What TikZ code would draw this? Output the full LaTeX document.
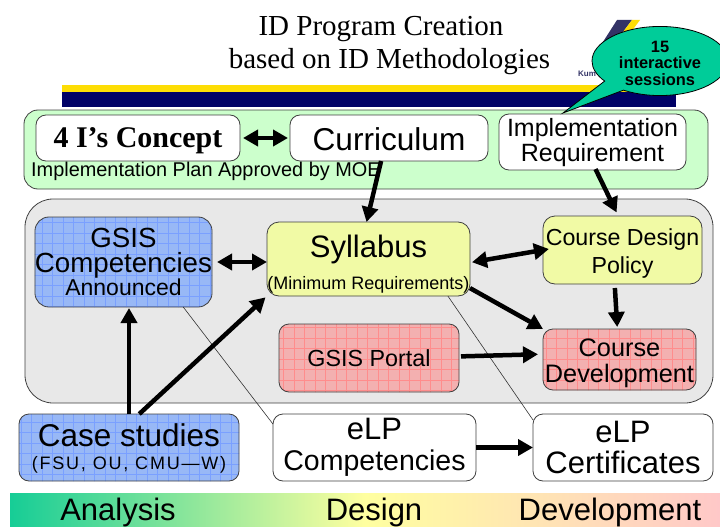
\documentclass[tikz,border=0pt]{standalone}
\usepackage{fontspec}
\setmainfont{Liberation Sans}
\newfontfamily\titlefont{Liberation Serif}
\usetikzlibrary{positioning, arrows.meta, shapes.callouts, patterns}
\definecolor{plangreen}{RGB}{204,255,204}
\definecolor{panelgray}{RGB}{232,232,232}
\definecolor{sylyellow}{RGB}{241,250,165}
\definecolor{blueback}{RGB}{152,184,246}
\definecolor{blueline}{RGB}{122,160,255}
\definecolor{pinkback}{RGB}{243,176,176}
\definecolor{pinkline}{RGB}{255,140,140}
\definecolor{sessgreen}{RGB}{0,204,153}
\definecolor{logoblue}{RGB}{51,51,102}
\newcommand{\fsz}[2]{\fontsize{#1}{#2}\selectfont}
\newcommand{\topgap}[1]{\rule{0pt}{#1pt}}
\pgfdeclarepatternformonly{thingrid}{\pgfqpoint{-1pt}{-1pt}}{\pgfqpoint{11.5pt}{11.5pt}}{\pgfqpoint{10.5pt}{10.5pt}}{
	\pgfsetlinewidth{0.5pt}
	\pgfpathmoveto{\pgfqpoint{0pt}{0pt}}
	\pgfpathlineto{\pgfqpoint{10.5pt}{0pt}}
	\pgfpathmoveto{\pgfqpoint{0pt}{0pt}}
	\pgfpathlineto{\pgfqpoint{0pt}{10.5pt}}
	\pgfusepath{stroke}
}
\tikzset{
	panel/.style={draw=black!75, line width=0.8, inner sep=0, outer sep=0, text centered, align=center, rounded corners=10},
	whitebox/.style={panel, fill=white},
	yellowbox/.style={panel, fill=sylyellow},
	gridbox/.style 2 args={panel, preaction={fill=#1}, pattern=thingrid, pattern color=#2},
	fat/.style={line width=4.5, {Triangle[width=16,length=15]}-{Triangle[width=16,length=15]}},
	fatone/.style={line width=4.5, -{Triangle[width=16,length=15]}},
	thinline/.style={line width=0.6, black!80}
}

\begin{document}
\begin{tikzpicture}[x=1pt, y=-1pt]
		\useasboundingbox (0,0) rectangle (720,527);

		% title %
		\node[font=\titlefont\fsz{29}{33}, text centered, align=center] (title) at (389.5,45.5) {ID Program Creation\hspace*{17pt}\\based on ID Methodologies};

		% logo and banner %
		\fill[logoblue] (617,20) -- (632,20) -- (620,36) -- (601,45) -- cycle;
		\fill[yellow!80!orange] (632,20) -- (640,20) -- (628,36) -- (620,36) -- cycle;
		\node[text=logoblue, inner sep=0, anchor=west] (kum) at (578,74) {\fsz{8}{9}\bfseries Kum};
		\fill[yellow!80!orange] (62,85) rectangle (676,92);
		\fill[blue!40!black] (62,92) rectangle (676,107);

		% nodes - for top row %
		\node[panel, fill=plangreen, rounded corners=14, minimum width=684, minimum height=79] (plan) at (366,149.5) {};
		\node[whitebox, minimum width=204, minimum height=46] (concept) at (138,138) {\topgap{26}\titlefont\bfseries\fsz{30}{34}4 I’s Concept};
		\node[whitebox, right=50 of concept, minimum width=198, minimum height=46] (curriculum) {\topgap{26}\fsz{31.6}{36}Curriculum};
		\node[whitebox, font=\fsz{25}{25}, minimum width=187, minimum height=56] (implreq) at (592.5,142) {\topgap{20}Implementation\\Requirement};
		\node[inner sep=0, anchor=west] (approved) at (31,171.5) {\fsz{19.9}{22}Implementation Plan Approved by MOE};

		% nodes - for middle panel %
		\node[panel, fill=panelgray, rounded corners=28, minimum width=688, minimum height=204] (middle) at (369,301) {};
		\node[gridbox={blueback}{blueline}, font=\fsz{27.7}{25}, rounded corners=14, minimum width=175, minimum height=90] (gsis) at (123.5,262) {GSIS\\Competencies\\[-2]\fsz{23}{25}Announced};
		\node[yellowbox, rounded corners=12, minimum width=203, minimum height=74] (syllabus) at (368.5,259) {\topgap{33}\fsz{31}{36}Syllabus\\[12]\fsz{18}{20}(Minimum Requirements)};
		\node[yellowbox, font=\fsz{23.2}{28}, rounded corners=12, minimum width=159, minimum height=68] (policy) at (622.5,250) {\topgap{23}Course Design\\Policy};
		\node[gridbox={pinkback}{pinkline}, font=\fsz{23.3}{26}, minimum width=180, minimum height=68] (portal) at (369,358) {GSIS Portal};
		\node[gridbox={pinkback}{pinkline}, font=\fsz{25.3}{26}, minimum width=153, minimum height=61] (development) at (619.5,359.5) {\topgap{24.5}Course\\Development};

		% nodes - for bottom row %
		\node[gridbox={blueback}{blueline}, minimum width=220, minimum height=67] (cases) at (129,447.5) {\topgap{25}\fsz{31.5}{34}Case studies\\[8]\addfontfeature{LetterSpace=10}\fsz{18}{20}(FSU, OU, CMU—W)};
		\node[whitebox, font=\fsz{31}{31}, minimum width=203, minimum height=67] (elpcomp) at (374.5,447.5) {eLP\\\fsz{28.5}{31}Competencies};
		\node[whitebox, font=\fsz{31}{31}, minimum width=180, minimum height=67] (elpcert) at (623,447.5) {eLP\\Certificates};

		% phase bar %
		\node[left color={rgb,255:red,22;green,205;blue,150}, right color={rgb,255:red,255;green,200;blue,200}, middle color={rgb,255:red,255;green,255;blue,160}, inner sep=0, minimum width=710, minimum height=34] (phases) at (365,510) {};
		\node[inner sep=0] (analysis) at (118,512) {\fsz{31}{34}Analysis};
		\node[inner sep=0] (design) at (374,512) {\fsz{31}{34}Design};
		\node[inner sep=0] (develop) at (610,512) {\fsz{31}{34}Development};

		% edges %
		\draw[thinline] (gsis.-37) -- (elpcomp.167);
		\draw[thinline] (syllabus.-25) -- (elpcert.163);
		\draw[fat, shorten <=3, shorten >=2] (concept) -- (curriculum);
		\draw[fatone] (curriculum.251) -- (syllabus.93);
		\draw[fatone, shorten <=-1, shorten >=4] (implreq.-83) -- (policy.97);
		\draw[fat, shorten <=5] (gsis.east) -- (syllabus.west |- gsis.east);
		\draw[fatone, shorten >=1] (cases.north) -- (cases.north |- gsis.south);
		\draw[fatone, shorten >=2] (cases.73) -- (syllabus.south west);
		\draw[fat, shorten <=2, shorten >=-6] (syllabus.-2) -- (policy.west);
		\draw[fatone] (syllabus.-16.5) -- (development.north west);
		\draw[fatone, shorten <=4, shorten >=2] (policy.257.6) -- (development.94.7);
		\draw[fatone, shorten <=2, shorten >=5] (portal.1.3) -- (development.176);
		\draw[fatone] (elpcomp.east) -- (elpcert.west);

		% callout %
		\coordinate (tip) at (563,113);
		\node[ellipse callout, draw=black, line width=0.8, fill=sessgreen, font=\bfseries\fsz{16.4}{16.5}, inner sep=0, outer sep=0, minimum width=136, minimum height=68, callout absolute pointer={(tip)}, callout pointer arc=22, align=center, text centered] (sessions) at (660,61) {\topgap{15.7}15\\interactive\\sessions};

		\end{tikzpicture}
\end{document}
